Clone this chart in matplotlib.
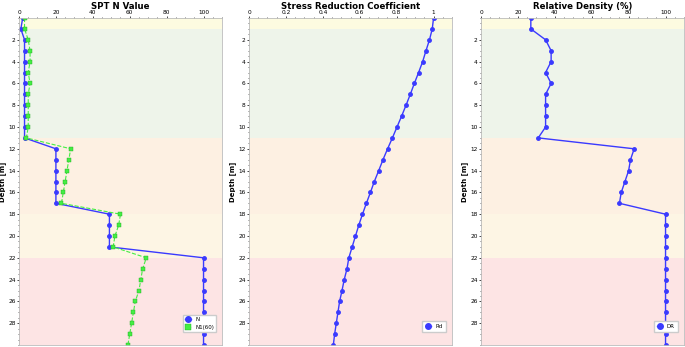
import matplotlib
matplotlib.use("Agg")
import matplotlib.pyplot as plt
from matplotlib.ticker import MultipleLocator

# depth (m) of each test point
depth = list(range(0, 31))

# SPT blow counts
n_spt = [2, 1, 3, 3, 3, 3, 3, 3, 3, 3, 3, 3,
         20, 20, 20, 20, 20, 20,
         49, 49, 49, 49,
         100, 100, 100, 100, 100, 100, 100, 100, 100]
n1_60 = [3, 3, 5, 6, 6, 5, 6, 5, 5, 5, 5, 4,
         28, 27, 26, 25, 24, 23,
         55, 54, 52, 51,
         69, 67, 66, 65, 63, 62, 61, 60, 59]

# stress reduction coefficient
rd = [1.0, 0.993, 0.978, 0.959, 0.941, 0.919, 0.896, 0.874, 0.851, 0.827,
      0.802, 0.777, 0.751, 0.726, 0.703, 0.679, 0.658, 0.636, 0.615, 0.595,
      0.577, 0.559, 0.541, 0.531, 0.516, 0.504, 0.491, 0.482, 0.473, 0.464,
      0.457]

# relative density (%)
dr = [27, 27, 35, 38, 38, 35, 38, 35, 35, 35, 35, 31,
      83, 81, 80, 78, 76, 75,
      100, 100, 100, 100, 100, 100, 100, 100, 100, 100, 100, 100, 100]

# soil layers (top, bottom, colour)
layer_top = [0, 1, 11, 18, 22]
layer_bot = [1, 11, 18, 22, 30]
layer_col = ["#fdfbe0", "#eef4ea", "#fdf0e2", "#fdf5e4", "#fde4e4"]

fig = plt.figure(figsize=(6.85, 3.47), dpi=100)
lefts = [19, 249, 481]
width = 203
bottom = 1 - 345 / 347
height = (345 - 18) / 347

blue = "#3a3aff"
green = "#44ee44"


def setup(ax, title, xmax, xmajor, xminor):
    for t, b, c in zip(layer_top, layer_bot, layer_col):
        ax.axhspan(t, b, color=c, zorder=0, lw=0)
    ax.set_ylim(30, 0)
    ax.set_xlim(0, xmax)
    ax.xaxis.tick_top()
    ax.xaxis.set_major_locator(MultipleLocator(xmajor))
    ax.xaxis.set_minor_locator(MultipleLocator(xminor))
    ax.yaxis.set_major_locator(MultipleLocator(2))
    ax.yaxis.set_minor_locator(MultipleLocator(0.5))
    ax.tick_params(labelsize=4.2, length=1.8, width=0.5, pad=0.6)
    ax.tick_params(which="minor", length=1.0, width=0.4)
    ax.set_yticks(range(2, 30, 2))
    for s in ax.spines.values():
        s.set_color("#bbbbbb")
        s.set_linewidth(0.6)
    # title placed in figure coordinates so it stays inside the picture
    pos = ax.get_position()
    fig.text((pos.x0 + pos.x1) / 2, 1 - 6.5 / 347, title, fontsize=6.2,
             fontweight="bold", ha="center", va="center")
    ax.set_ylabel("Depth [m]", fontsize=5, fontweight="bold")
    ax.yaxis.set_label_coords(-0.064, 0.5)
    ax.xaxis.set_major_formatter(plt.FuncFormatter(lambda v, p: f"{v:g}"))


ax1 = fig.add_axes([lefts[0] / 685, bottom, width / 685, height])
setup(ax1, "SPT N Value", 110, 20, 5)
ax1.plot(n_spt, depth, color=blue, lw=1, marker="o", ms=2.5, label="N")
ax1.plot(n1_60, depth, color=green, lw=0.8, ls="--", marker="s", ms=2.8,
         mec="#22aa22", mew=0.3, label="N1(60)")
ax1.legend(loc="lower right", fontsize=4, markerscale=1.6, handlelength=1,
           borderpad=0.4, framealpha=1, edgecolor="#cccccc", fancybox=False,
           bbox_to_anchor=(0.985, 0.03))

ax2 = fig.add_axes([lefts[1] / 685, bottom, width / 685, height])
setup(ax2, "Stress Reduction Coefficient", 1.1, 0.2, 0.05)
ax2.plot(rd, depth, color=blue, lw=1, marker="o", ms=2.5, label="Rd")
ax2.legend(loc="lower right", fontsize=4, markerscale=1.6, handlelength=1,
           borderpad=0.6, framealpha=1, edgecolor="#cccccc", fancybox=False,
           bbox_to_anchor=(0.985, 0.03))

ax3 = fig.add_axes([lefts[2] / 685, bottom, width / 685, height])
setup(ax3, "Relative Density (%)", 110, 20, 5)
ax3.plot(dr, depth, color=blue, lw=1, marker="o", ms=2.5, label="DR")
ax3.legend(loc="lower right", fontsize=4, markerscale=1.6, handlelength=1,
           borderpad=0.6, framealpha=1, edgecolor="#cccccc", fancybox=False,
           bbox_to_anchor=(0.985, 0.03))

fig.savefig("out.png", dpi=100)
